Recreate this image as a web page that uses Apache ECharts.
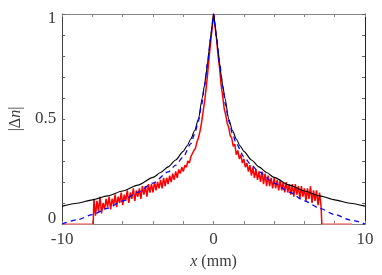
<!DOCTYPE html>
<html><head><meta charset="utf-8">
<script src="https://cdn.jsdelivr.net/npm/echarts@6/dist/echarts.min.js"></script>
<style>html,body{margin:0;padding:0;background:#fff}#c{width:382px;height:275px}</style>
</head><body><div id="c"></div>
<script>
// Black solid curve
const blackX = [-10,-9,-8,-7,-6,-5,-4,-3.5,-3,-2.5,-2,-1.75,-1.5,-1.25,-1,-0.75,-0.6,-0.5,-0.4,-0.3,-0.2,-0.1,0,0.1,0.2,0.3,0.4,0.5,0.6,0.75,1,1.25,1.5,1.75,2,2.5,3,3.5,4,5,6,7,8,9,10];
const blackY = [0.085,0.099,0.115,0.134,0.157,0.185,0.222,0.245,0.272,0.305,0.346,0.372,0.405,0.445,0.50,0.60,0.66,0.71,0.765,0.825,0.885,0.945,1.0,0.945,0.885,0.825,0.765,0.71,0.66,0.60,0.50,0.445,0.405,0.372,0.346,0.305,0.272,0.245,0.222,0.185,0.157,0.134,0.115,0.099,0.085];
// Blue dashed curve
const blueX = [-10,-9,-8,-7,-6,-5,-4,-3,-2.5,-2,-1.5,-1.25,-1,-0.8,-0.6,-0.4,-0.2,0,0.2,0.4,0.6,0.8,1,1.25,1.5,2,2.5,3,4,5,6,7,8,9,10];
const blueY = [0,0.02,0.045,0.075,0.11,0.152,0.195,0.248,0.28,0.32,0.383,0.43,0.49,0.565,0.655,0.765,0.885,1.0,0.885,0.765,0.655,0.565,0.49,0.43,0.383,0.32,0.28,0.248,0.195,0.152,0.11,0.075,0.045,0.02,0];
// Red measured data: zero outside the measured window, samples every 0.1 mm from -7.9 to 7.1
const redStartX = -7.9, redStepX = 0.1;
const redY = [
0.12,0.04,0.11,0.06,0.13,0.05,0.10,0.07,0.12,0.08,
0.13,0.07,0.12,0.09,0.14,0.08,0.13,0.10,0.15,0.09,
0.14,0.11,0.16,0.10,0.15,0.12,0.17,0.11,0.16,0.13,
0.17,0.12,0.18,0.14,0.18,0.13,0.19,0.15,0.19,0.15,
0.20,0.16,0.20,0.17,0.21,0.17,0.22,0.18,0.22,0.19,
0.23,0.20,0.24,0.21,0.25,0.22,0.26,0.24,0.27,0.25,
0.28,0.27,0.30,0.29,0.32,0.32,0.35,0.36,0.39,0.41,
0.44,0.48,0.53,0.58,0.64,0.71,0.79,0.86,0.93,1.00,
0.94,0.88,0.80,0.74,0.66,0.61,0.55,0.52,0.48,0.46,
0.42,0.41,0.37,0.38,0.33,0.35,0.31,0.33,0.29,0.31,
0.27,0.29,0.25,0.28,0.23,0.27,0.22,0.26,0.21,0.25,
0.20,0.25,0.19,0.24,0.18,0.23,0.18,0.22,0.17,0.22,
0.17,0.21,0.16,0.21,0.16,0.20,0.15,0.20,0.15,0.19,
0.14,0.19,0.13,0.19,0.14,0.18,0.12,0.18,0.13,0.17,
0.11,0.17,0.12,0.18,0.10,0.16,0.11,0.16,0.09,0.15,
0.08];
const redZeroLeft = [-10, -7.95];
const redZeroRight = [7.15, 9.15];
const xTickLabels = {'-10':'-10','0':'0','10':'10'};
const yTickLabels = {'0':'0','0.5':'0.5','1':'1'};

const redData = [[redZeroLeft[1],0]];
redY.forEach((v,i)=>redData.push([+(redStartX+i*redStepX).toFixed(2), v]));
redData.push([redZeroRight[0],0]);
const redZeroData = [[redZeroLeft[0],0],[redZeroLeft[1],0],null,[redZeroRight[0],0],[redZeroRight[1],0]];
const blackData = blackX.map((x,i)=>[x,blackY[i]]);
const blueData = blueX.map((x,i)=>[x,blueY[i]]);

const font = 'Liberation Serif';
const lblColor = '#3a3a3a';
const chart = echarts.init(document.getElementById('c'), null, {renderer:'canvas'});
chart.setOption({
  animation:false,
  grid:{left:56,right:17,top:14,bottom:48},
  xAxis:[{
    type:'value',min:-10,max:10,interval:2,position:'bottom',
    axisLine:{onZero:false,lineStyle:{color:'#858585',width:1}},
    axisTick:{inside:true,length:3,lineStyle:{color:'#858585'}},
    splitLine:{show:false},
    axisLabel:{margin:7,fontFamily:font,fontSize:17,color:lblColor,
      formatter:v=>xTickLabels[String(v)]||''},
    name:'{i|x} (mm)',nameLocation:'middle',nameGap:30,
    nameTextStyle:{fontFamily:font,fontSize:16,color:lblColor,
      rich:{i:{fontFamily:font,fontStyle:'italic',fontSize:16,color:lblColor}}}
  },{
    type:'value',min:-10,max:10,interval:2,position:'top',
    axisLine:{onZero:false,lineStyle:{color:'#858585',width:1}},
    axisTick:{inside:true,length:3,lineStyle:{color:'#858585'}},
    axisLabel:{show:false},splitLine:{show:false}
  }],
  yAxis:[{
    type:'value',min:0,max:1,interval:0.1,position:'left',
    axisLine:{show:true,onZero:false,lineStyle:{color:'#404040',width:1}},
    axisTick:{show:true,inside:true,length:3,lineStyle:{color:'#606060'}},
    splitLine:{show:false},
    axisLabel:{margin:6,fontFamily:font,fontSize:17,color:lblColor,
      formatter:v=>{
        const k=String(+v.toFixed(2));
        const t=yTickLabels[k];
        if(!t) return '';
        if(k==='1') return '{dn|'+t+'}';
        if(k==='0') return '{up|'+t+'}';
        return t;
      },
      rich:{dn:{fontFamily:font,fontSize:17,color:lblColor,padding:[10,0,0,0]},
            up:{fontFamily:font,fontSize:17,color:lblColor,padding:[0,0,10,0]}}
    },
    name:'|Δ{i|n}|',nameLocation:'middle',nameGap:36,nameRotate:90,
    nameTextStyle:{fontFamily:font,fontSize:16,color:lblColor,
      rich:{i:{fontFamily:font,fontStyle:'italic',fontSize:16,color:lblColor}}}
  },{
    type:'value',min:0,max:1,interval:0.1,position:'right',
    axisLine:{show:true,onZero:false,lineStyle:{color:'#202020',width:1}},
    axisTick:{show:true,inside:true,length:3,lineStyle:{color:'#606060'}},
    axisLabel:{show:false},splitLine:{show:false}
  }],
  series:[
    {type:'line',data:redZeroData,showSymbol:false,symbol:'none',connectNulls:false,
      lineStyle:{color:'#ff8080',width:1.5},z:1},
    {type:'line',data:redData,showSymbol:false,symbol:'none',
      lineStyle:{color:'#ff0000',width:1.5},z:2},
    {type:'line',data:blackData,showSymbol:false,symbol:'none',smooth:0.25,smoothMonotone:'x',
      lineStyle:{color:'#000000',width:1.1},z:3},
    {type:'line',data:blueData,showSymbol:false,symbol:'none',smooth:0.25,smoothMonotone:'x',
      lineStyle:{color:'#0000ff',width:1.3,type:[5,4]},z:4}
  ]
});
</script></body></html>
